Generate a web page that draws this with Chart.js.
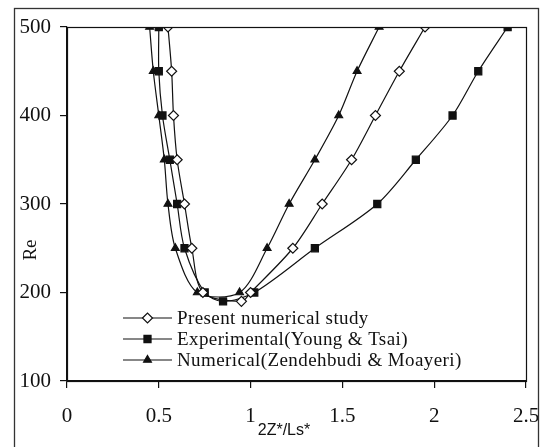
<!DOCTYPE html>
<html>
<head>
<meta charset="utf-8">
<script src="https://cdn.jsdelivr.net/npm/chart.js@4/dist/chart.umd.min.js"></script>
<style>
  html, body { margin: 0; padding: 0; background: #fff; }
  #wrap { width: 542px; height: 447px; }
</style>
</head>
<body>
<div id="wrap"><canvas id="chart" width="542" height="447"></canvas></div>
<script>
// ======= Data =======
const reTicks = [100, 200, 300, 400, 500];
const zTicks = [0, 0.5, 1, 1.5, 2, 2.5];

// Present numerical study
const presentZ  = [0.55, 0.57, 0.58, 0.60, 0.64, 0.68, 0.74, 0.95, 1.00, 1.23, 1.39, 1.55, 1.68, 1.81, 1.95];
const presentRe = [500, 450, 400, 350, 300, 250, 200, 190, 200, 250, 300, 350, 400, 450, 500];

// Experimental (Young & Tsai)
const expZ  = [0.50, 0.50, 0.52, 0.56, 0.60, 0.64, 0.75, 0.85, 1.02, 1.35, 1.69, 1.90, 2.10, 2.24, 2.40];
const expRe = [500, 450, 400, 350, 300, 250, 200, 190, 200, 250, 300, 350, 400, 450, 500];

// Numerical (Zendehbudi & Moayeri)
const numZ  = [0.45, 0.47, 0.50, 0.53, 0.55, 0.59, 0.71, 0.94, 1.09, 1.21, 1.35, 1.48, 1.58, 1.70];
const numRe = [500, 450, 400, 350, 300, 250, 200, 200, 250, 300, 350, 400, 450, 500];

const seriesNames = [
  "Present numerical study",
  "Experimental(Young & Tsai)",
  "Numerical(Zendehbudi & Moayeri)"
];
const xTitle = "2Z*/Ls*";
const yTitle = "Re";

const toPoints = (xs, ys) => xs.map((x, i) => ({ x: x, y: ys[i] }));

// ======= Styles =======
const INK = "#111";
const SERIF = "'Liberation Serif', 'Times New Roman', serif";
const SANS = "'Liberation Sans', Arial, sans-serif";

function seriesStyle(pointStyle, radius, fill) {
  return {
    showLine: true,
    borderColor: INK,
    borderWidth: 1.2,
    tension: 0.3,
    pointStyle: pointStyle,
    pointRadius: radius,
    pointBorderWidth: 1.2,
    pointBorderColor: INK,
    pointBackgroundColor: fill,
    pointHoverRadius: radius
  };
}

// ======= Frame, box, legend and axis titles =======
const decorations = {
  id: "decorations",
  afterDraw(chart) {
    const ctx = chart.ctx;
    const a = chart.chartArea;
    ctx.save();

    // plot box
    ctx.strokeStyle = INK;
    ctx.lineWidth = 1.2;
    ctx.strokeRect(a.left + 0.5, a.top + 0.5, a.right - a.left, a.bottom - a.top);

    // legend inside the plot
    const lx0 = a.left + 56, lx1 = a.left + 105, lmx = (lx0 + lx1) / 2;
    chart.data.datasets.forEach((ds, i) => {
      const y = a.bottom - 63 + i * 21;
      ctx.strokeStyle = INK;
      ctx.lineWidth = 1.2;
      ctx.beginPath();
      ctx.moveTo(lx0, y);
      ctx.lineTo(lx1, y);
      ctx.stroke();
      ctx.fillStyle = ds.pointBackgroundColor;
      ctx.strokeStyle = INK;
      Chart.helpers.drawPoint(ctx, { pointStyle: ds.pointStyle, radius: ds.pointRadius, borderWidth: 1.2, rotation: 0 }, lmx, y);
      ctx.fillStyle = INK;
      ctx.font = "19px " + SERIF;
      ctx.letterSpacing = "0.4px";
      ctx.textBaseline = "middle";
      ctx.textAlign = "left";
      ctx.fillText(ds.label, lx1 + 5, y + 1);
      ctx.letterSpacing = "0px";
    });

    // axis titles
    ctx.fillStyle = INK;
    ctx.font = "16px " + SANS;
    ctx.textAlign = "center";
    ctx.textBaseline = "middle";
    ctx.fillText(xTitle, 284, 431);

    ctx.save();
    ctx.translate(31, 250);
    ctx.rotate(-Math.PI / 2);
    ctx.font = "19px " + SERIF;
    ctx.fillText(yTitle, 0, 0);
    ctx.restore();

    // outer frame
    ctx.fillStyle = "#fff";
    ctx.fillRect(539, 0, 3, chart.height);
    ctx.strokeStyle = "#333";
    ctx.lineWidth = 1.3;
    ctx.strokeRect(14.5, 8.5, 524, 460);
    ctx.restore();
  }
};

// ======= Chart.js =======
const ctx = document.getElementById("chart").getContext("2d");
new Chart(ctx, {
  type: "scatter",
  data: {
    datasets: [
      Object.assign({ label: seriesNames[0], data: toPoints(presentZ, presentRe) }, seriesStyle("rectRot", 5, "#fff")),
      Object.assign({ label: seriesNames[1], data: toPoints(expZ, expRe) }, seriesStyle("rect", 5, INK)),
      Object.assign({ label: seriesNames[2], data: toPoints(numZ, numRe) }, seriesStyle("triangle", 4.5, INK))
    ]
  },
  options: {
    responsive: false,
    animation: false,
    events: [],
    layout: { padding: { top: 27, right: 16, left: 0, bottom: 0 } },
    plugins: { legend: { display: false }, tooltip: { enabled: false } },
    scales: {
      x: {
        type: "linear",
        min: 0,
        max: 2.5,
        afterBuildTicks: s => { s.ticks = zTicks.map(v => ({ value: v })); },
        afterFit: s => {
          s.height = 66;
          // keep the end labels from squeezing the plot sideways
          s.paddingLeft = 0;
          s.paddingRight = 0;
        },
        border: { display: true, color: INK, width: 1.2 },
        grid: { drawOnChartArea: false, drawTicks: true, tickLength: 7, color: INK, lineWidth: 1.2 },
        ticks: {
          color: INK,
          font: { family: SERIF, size: 21 },
          padding: 16,
          maxRotation: 0,
          callback: v => String(v)
        }
      },
      y: {
        type: "linear",
        min: 100,
        max: 500,
        afterBuildTicks: s => { s.ticks = reTicks.map(v => ({ value: v })); },
        afterFit: s => { s.width = 67; },
        border: { display: true, color: INK, width: 1.2 },
        grid: { drawOnChartArea: false, drawTicks: true, tickLength: 7, color: INK, lineWidth: 1.2 },
        ticks: { color: INK, font: { family: SERIF, size: 21 }, padding: 9 }
      }
    }
  },
  plugins: [decorations]
});
</script>
</body>
</html>
